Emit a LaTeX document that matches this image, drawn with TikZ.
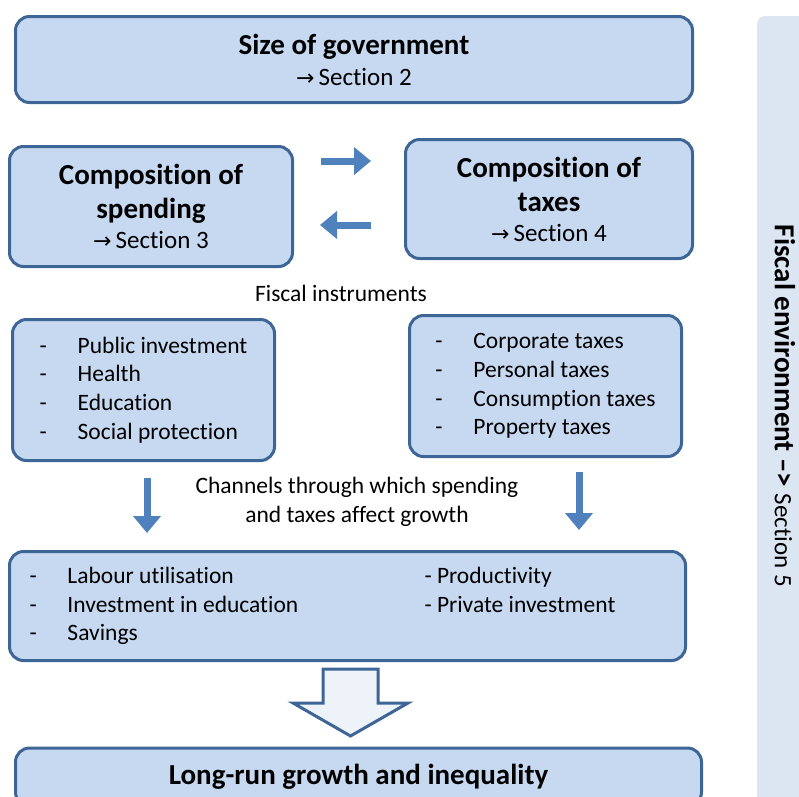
\documentclass[tikz,border=0pt]{standalone}
\usepackage{fontspec}
\setmainfont{Carlito}[Ligatures=NoCommon]
\newfontfamily\symbolfont{DejaVu Sans}
\usetikzlibrary{arrows.meta}
\definecolor{boxfill}{HTML}{C6D9F1}
\definecolor{boxline}{HTML}{3D6596}
\definecolor{arrowblue}{HTML}{4F81BD}
\definecolor{sidefill}{HTML}{DCE6F2}
\definecolor{blockfill}{HTML}{EEF3FA}
\newcommand{\headfont}{\fontsize{29}{34}\selectfont\bfseries}
\newcommand{\bodyfont}{\fontsize{23.5}{28.7}\selectfont}
\newcommand{\secfont}{\fontsize{25}{30}\selectfont\mdseries}
\newcommand{\sectto}[1]{{\symbolfont\fontsize{22}{22}\selectfont →}\hspace{4pt}Section #1}
\newcommand{\itm}[1]{\makebox[38pt][l]{-}#1}
\newcommand{\chanrow}[2]{\makebox[636pt][l]{\makebox[395pt][l]{\itm{#1}}#2}}
\begin{document}
\begin{tikzpicture}[x=1pt,y=-1pt,inner sep=0pt,outer sep=0pt,
bluebox/.style={draw=boxline,fill=boxfill,line width=3pt,rounded corners=14pt,rectangle,align=center,font=\bodyfont},
flowarrow/.style={draw=arrowblue,line width=7pt,-{Triangle[width=27pt,length=17pt]}},
bigarrow/.style={draw=boxline,fill=blockfill,line width=3pt,line join=miter}]
\useasboundingbox (0,0) rectangle (799,796);
\fill[sidefill,rounded corners=8pt] (757,16) rectangle (820,810);
\draw (354,59.5) node[bluebox,font=\headfont,minimum width=677pt,minimum height=86pt] (gov) {Size of government\\[-3pt] {\secfont\sectto{2}}};
\draw (151,206.5) node[bluebox,font=\headfont,minimum width=283pt,minimum height=120pt] (spend) {Composition of\\ spending\\[-4pt] {\secfont\sectto{3}}};
\draw (549,199) node[bluebox,font=\headfont,minimum width=287pt,minimum height=119pt] (tax) {Composition of\\ taxes\\[-4pt] {\secfont\sectto{4}}};
\draw[flowarrow,shorten <=28.5pt,shorten >=34.5pt] ([yshift=45.5pt]spend.east) -- ([yshift=38pt]tax.west);
\draw[flowarrow,shorten <=34.5pt,shorten >=27.5pt] ([yshift=-26pt]tax.west) -- ([yshift=-18.5pt]spend.east);
\draw (341,293) node[font=\bodyfont] (instr) {Fiscal instruments};
\draw (143.5,390) node[bluebox,minimum width=262pt,minimum height=141pt,align=left] (spendlist) {\itm{Public investment}\\ \itm{Health}\\ \itm{Education}\\ \itm{Social protection}};
\draw (545.5,386) node[bluebox,minimum width=272pt,minimum height=141pt,align=left] (taxlist) {\itm{Corporate taxes}\\ \itm{Personal taxes}\\ \itm{Consumption taxes}\\ \itm{Property taxes}};
\draw (357,502) node[font=\bodyfont,align=center] (channels) {Channels through which spending\\ and taxes affect growth};
\draw (347.5,606) node[bluebox,minimum width=676pt,minimum height=109pt,align=left] (chan) {\chanrow{Labour utilisation}{- Productivity}\\ \chanrow{Investment in education}{- Private investment}\\ \chanrow{Savings}{}};
\draw[flowarrow,shorten <=17.5pt,shorten >=18.5pt] ([xshift=3.5pt]spendlist.south) -- ([xshift=-200.5pt]chan.north);
\draw[flowarrow,shorten <=15.5pt,shorten >=21.5pt] ([xshift=33.5pt]taxlist.south) -- ([xshift=231.5pt]chan.north);
\draw[bigarrow] (323,669) -- (378,669) -- (378,703) -- (408,703) -- (350.5,736) -- (293,703) -- (323,703) -- cycle;
\draw (358.5,777) node[bluebox,minimum width=686pt,minimum height=58pt] (growth) {\headfont Long-run growth and inequality};
\draw (785,406) node[rotate=-90,font=\headfont] (env) {Fiscal environment –> {\secfont Section 5}};
\end{tikzpicture}
\end{document}
